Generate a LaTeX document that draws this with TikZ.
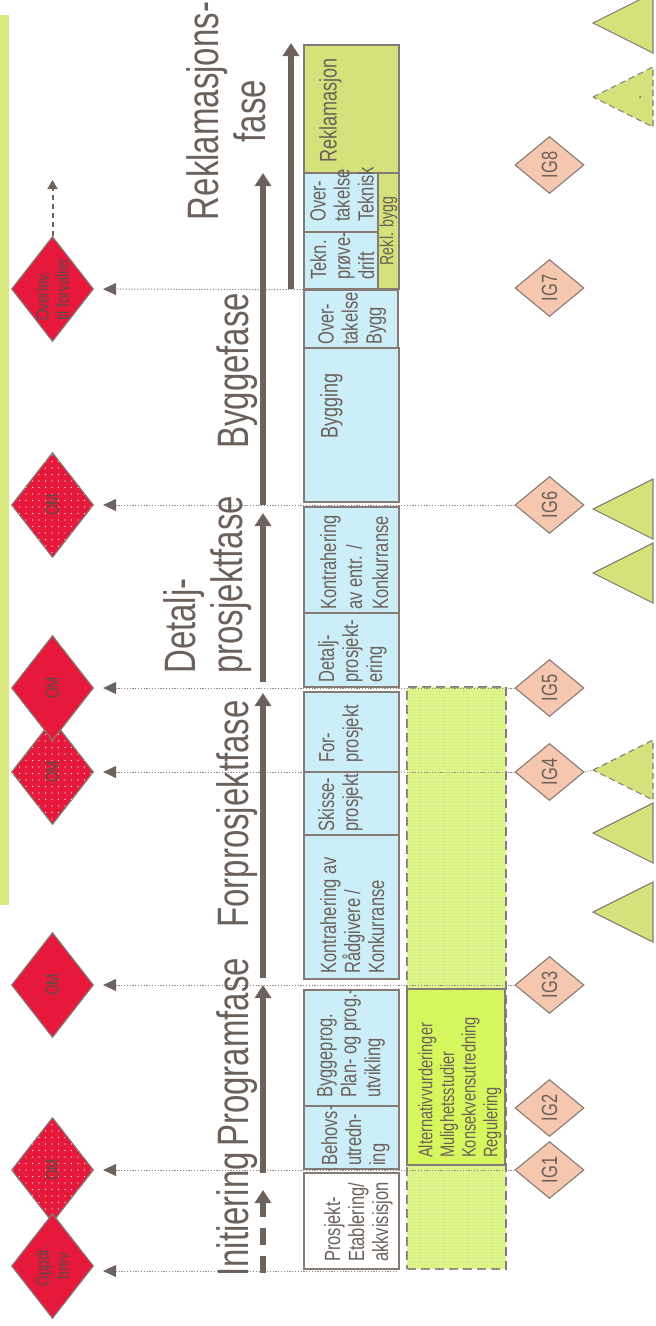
\documentclass[tikz,border=0pt]{standalone}
\usepackage{fontspec}
\setmainfont{Liberation Sans}[FakeStretch=0.75]
\usetikzlibrary{shapes.geometric,arrows.meta,patterns.meta}

\definecolor{ink}{HTML}{6B605A}
\definecolor{darkink}{HTML}{5A4B48}
\definecolor{edge}{HTML}{857A74}
\definecolor{shaft}{HTML}{6E625C}
\definecolor{dotgray}{HTML}{8F8580}
\definecolor{omred}{HTML}{E6183B}
\definecolor{igpink}{HTML}{F5C7AE}
\definecolor{skyfill}{HTML}{CCEEF8}
\definecolor{olive}{HTML}{D5E27B}
\definecolor{lime}{HTML}{D6F65E}
\definecolor{limehatch}{HTML}{D8F27C}
\definecolor{barlime}{HTML}{D8E87F}

\newcommand{\fsz}[2]{\fontsize{#1pt}{#2pt}\selectfont}

% white dot screens for the milestone diamonds and the open work area
\tikzdeclarepattern{name=reddots, type=uncolored,
  bounding box={(-1pt,-1pt) and (1pt,1pt)}, tile size={(6.5pt,6.5pt)},
  code={\fill (0pt,0pt) circle (0.7pt);}}
\tikzdeclarepattern{name=meshdots, type=uncolored,
  bounding box={(-1pt,-1pt) and (1pt,1pt)}, tile size={(3pt,3pt)},
  code={\fill (0pt,0pt) circle (0.6pt);}}

\tikzset{
  x=1pt, y=-1pt,
  every node/.style={inner sep=0pt, text=ink},
  panel/.style={rectangle, draw=edge, line width=1.3pt},
  skybox/.style={panel, fill=skyfill},
  plainbox/.style={panel, fill=white},
  olivebox/.style={panel, fill=olive},
  limebox/.style={panel, fill=lime},
  hatchbox/.style={panel, dash pattern=on 9pt off 5pt, fill=limehatch,
    postaction={pattern=meshdots, pattern color=white}},
  boxtext/.style={rotate=90, anchor=north west, align=left, font=\fsz{22}{24}},
  phase/.style={rotate=90, font=\fsz{44}{47}},
  milestone/.style={diamond, draw=edge, line width=1.2pt, fill=omred,
    minimum width=82pt, minimum height=105pt},
  screened milestone/.style={milestone, postaction={pattern=reddots, pattern color=white}},
  mstext/.style={rotate=90, align=center, text=darkink, font=\fsz{18}{20}},
  gate/.style={diamond, draw=edge, line width=1.1pt, fill=igpink,
    minimum width=69pt, minimum height=57pt},
  gatetext/.style={rotate=90, font=\fsz{22}{24}},
  phasearrow/.style={draw=shaft, line width=6pt, -{Triangle[length=13pt,width=16pt]}},
  feed/.style={draw=dotgray, line width=1pt, dash pattern=on 1.2pt off 1.6pt,
    -{Triangle[length=13pt,width=12pt,color=shaft]}, shorten >=9pt},
  feedline/.style={draw=dotgray, line width=1pt, dash pattern=on 1.2pt off 1.6pt},
  wedge/.style={draw=edge, line width=1.1pt, fill=olive, line join=miter},
}

\begin{document}
\begin{tikzpicture}
\useasboundingbox (0,0) rectangle (656,1326);

% side bar
\fill[barlime] (0,15) rectangle (9,905);

% open work area and the early study box
\node[hatchbox, minimum width=99pt, minimum height=582pt] (hatch) at (456.5,978) {};
\node[limebox, minimum width=98pt, minimum height=176pt] (alt) at (456,1077) {};

% activity boxes, bottom to top
\node[plainbox, minimum width=95pt, minimum height=96pt]  (pe) at (351.5,1221) {};
\node[skybox,   minimum width=95pt, minimum height=63pt]  (bu) at (351.5,1137.5) {};
\node[skybox,   minimum width=95pt, minimum height=116pt] (bp) at (351.5,1048) {};
\node[skybox,   minimum width=95pt, minimum height=144pt] (kr) at (351.5,907) {};
\node[skybox,   minimum width=95pt, minimum height=63pt]  (sk) at (351.5,803.5) {};
\node[skybox,   minimum width=95pt, minimum height=80pt]  (fp) at (351.5,732) {};
\node[skybox,   minimum width=95pt, minimum height=74pt]  (dp) at (351.5,650) {};
\node[skybox,   minimum width=95pt, minimum height=106pt] (ke) at (351.5,560) {};
\node[skybox,   minimum width=95pt, minimum height=154pt] (by) at (351.5,425) {};
\node[skybox,   minimum width=94pt, minimum height=58pt]  (ob) at (351,319) {};
\node[skybox,   minimum width=74pt, minimum height=57pt]  (tp) at (341,260.5) {};
\node[skybox,   minimum width=74pt, minimum height=59pt]  (ot) at (341,202.5) {};
\node[olivebox, minimum width=21pt, minimum height=116pt] (rb) at (388.5,231) {};
\node[olivebox, minimum width=95pt, minimum height=128pt] (rk) at (351.5,109) {};

% milestone diamonds (screened ones first, solid ones on top)
\node[screened milestone, label={[mstext]center:OM}] (om1) at (52.5,1170) {};
\node[screened milestone, label={[mstext]center:OM}] (om3) at (52.5,772) {};
\node[screened milestone, label={[mstext]center:OM}] (om5) at (52.5,505) {};
\node[milestone, label={[mstext]center:{Oppdr.\\brev}}] (od) at (52.5,1266) {};
\node[milestone, label={[mstext]center:OM}] (om2) at (52.5,985) {};
\node[milestone, label={[mstext]center:OM}] (om4) at (52.5,688) {};
\node[milestone] (ov) at (52.5,289) {};
\node[mstext, align=left, anchor=west] (ov-t) at (52.5,321) {Overlev.\\til forvalter};
\coordinate (ovnext) at (52.5,180);
\draw[draw=shaft, line width=2pt, dash pattern=on 5pt off 4pt,
  -{Triangle[length=9pt,width=10pt]}] (ov.north) -- (ovnext);

% gate diamonds
\foreach \n/\y in {1/1170, 2/1108, 3/985, 4/772, 5/688, 6/505, 7/288, 8/165}
  \node[gate, label={[gatetext]center:IG\n}] (ig\n) at (549.5,\y) {};

% dotted reporting lines
\coordinate (oppdrsrc) at (397,1271);
\draw[feed] (oppdrsrc) -- (oppdrsrc -| od.east);
\draw[feed] (ig1.west) -- (om1.east);
\draw[feed] (ig3.west) -- (om2.east);
\draw[feed] (ig4.west) -- (om3.east);
\draw[feed] (ig5.west) -- (om4.east);
\draw[feed] (ig6.west) -- (om5.east);
\draw[feed] (tp.south west) -- (ov.east);

% decision wedges on the right
\foreach \ty in {23,509,573,833,912}
  \draw[wedge] (593,\ty) -- (653,\ty-30) -- (653,\ty+30) -- cycle;
\foreach \ty in {97,770}
  \draw[wedge, dash pattern=on 6pt off 4pt] (593,\ty) -- (653,\ty-30) -- (653,\ty+30) -- cycle;
\fill[shaft] (640,97) circle (1pt);
\coordinate (t5) at (593,770);
\draw[feedline] (ig4.east) -- (t5);

% phase arrows
\coordinate (ia) at (263,1273); \coordinate (ib) at (263,1190);
\coordinate (pa) at (263,1173); \coordinate (pb) at (263,985);
\coordinate (fa) at (263,978);  \coordinate (fb) at (263,693);
\coordinate (da) at (263,682);  \coordinate (db) at (263,513);
\coordinate (ba) at (263,505);  \coordinate (bb) at (263,173);
\coordinate (ra) at (291,289);  \coordinate (rb2) at (291,43);
\draw[phasearrow, dash pattern=on 17pt off 11pt] (ia) -- (ib);
\draw[phasearrow] (pa) -- (pb);
\draw[phasearrow] (fa) -- (fb);
\draw[phasearrow] (da) -- (db);
\draw[phasearrow] (ba) -- (bb);
\draw[phasearrow] (ra) -- (rb2);

% phase titles
\node[phase, anchor=base west] (ph-init) at (248,1277) {Initiering};
\node[phase, anchor=base west] (ph-prog) at (248,1147) {Programfase};
\node[phase, anchor=base west] (ph-forp) at (248,928) {Forprosjektfase};
\node[phase, anchor=north west, align=left] (ph-detl) at (163,674) {Detalj-\\prosjektfase};
\node[phase, anchor=base west] (ph-bygg) at (248,449) {Byggefase};
\node[phase, anchor=north, align=center] (ph-rekl) at (186,111) {Reklamasjons-\\fase};

% activity texts
\node[boxtext] (pe-t) at (324,1262) {Prosjekt-\\Etablering/\\akkvisisjon};
\node[boxtext] (bu-t) at (321,1166) {Behovs-\\utredn-\\ing};
\node[boxtext] (bp-t) at (317,1098) {Byggeprog.\\Plan- og prog.-\\utvikling};
\node[boxtext] (kr-t) at (320,974) {Kontrahering av\\Rådgivere /\\Konkurranse};
\node[boxtext] (sk-t) at (318,832) {Skisse-\\prosjekt};
\node[boxtext] (fp-t) at (319,763) {For-\\prosjekt};
\node[boxtext] (dp-t) at (318,683) {Detalj-\\prosjekt-\\ering};
\node[boxtext, font=\fsz{22}{26}] (ke-t) at (320,610) {Kontrahering\\av entr. /\\Konkurranse};
\node[boxtext, font=\fsz{24}{26}] (by-t) at (320,439) {Bygging};
\node[boxtext] (ob-t) at (318,345) {Over-\\takelse\\Bygg};
\node[boxtext] (tp-t) at (310,280) {Tekn.\\prøve-\\drift};
\node[boxtext] (ot-t) at (310,222) {Over-\\takelse\\Teknisk};
\node[boxtext, font=\fsz{24}{26}] (rk-t) at (319,163) {Reklamasjon};
\node[rotate=90, font=\fsz{19}{21}] (rb-t) at (rb) {Rekl. bygg};
\node[boxtext, font=\fsz{19.5}{21.7}] (alt-t) at (418,1158)
  {Alternativvurderinger\\Mulighetsstudier\\Konsekvensutredning\\Regulering};
\end{tikzpicture}
\end{document}
